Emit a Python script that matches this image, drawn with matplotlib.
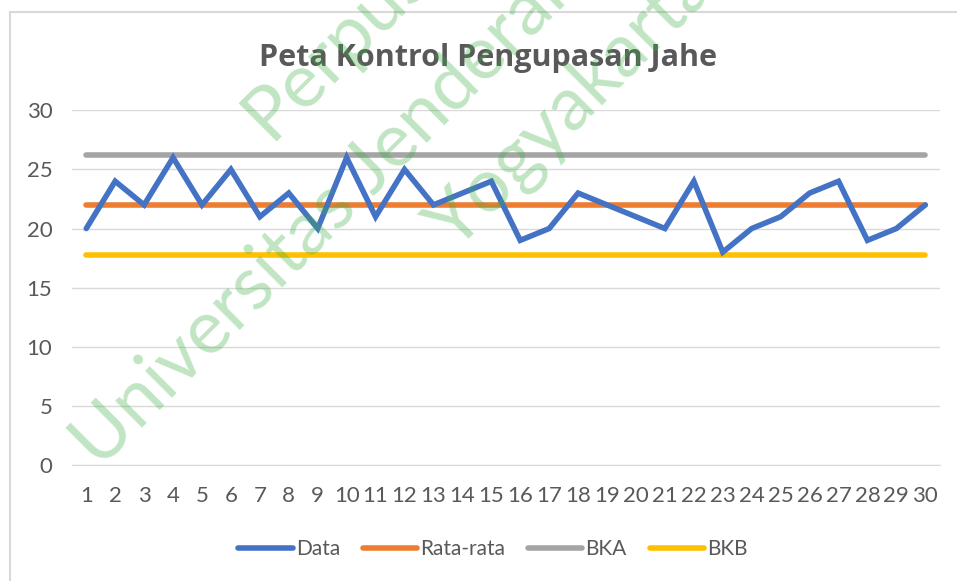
import matplotlib.pyplot as plt

plt.rcParams['font.family'] = ['Lato', 'DejaVu Sans']

obs = list(range(1, 31))
data = [20, 24, 22, 26, 22, 25, 21, 23, 20, 26,
        21, 25, 22, 23, 24, 19, 20, 23, 22, 21,
        20, 24, 18, 20, 21, 23, 24, 19, 20, 22]
rata = [22.0] * 30
bka = [26.2] * 30
bkb = [17.8] * 30

fig = plt.figure(figsize=(9.57, 5.81), dpi=100)
ax = fig.add_axes([0.075, 0.2, 0.907, 0.61])

grey = '#595959'
ax.plot(obs, data, color='#4472C4', lw=4, label='Data', solid_capstyle='round', solid_joinstyle='miter', zorder=5)
ax.plot(obs, rata, color='#ED7D31', lw=4, label='Rata-rata', solid_capstyle='round', zorder=4)
ax.plot(obs, bka, color='#A5A5A5', lw=4, label='BKA', solid_capstyle='round', zorder=4)
ax.plot(obs, bkb, color='#FFC000', lw=4, label='BKB', solid_capstyle='round', zorder=4)

ax.set_xlim(0.5, 30.5)
ax.set_ylim(0, 30)
ax.set_yticks(range(0, 31, 5))
ax.set_xticks(obs)
ax.yaxis.grid(True, color='#D9D9D9', lw=1)
ax.set_axisbelow(True)
for s in ['top', 'right', 'left']:
    ax.spines[s].set_visible(False)
ax.spines['bottom'].set_color('#D9D9D9')
ax.tick_params(axis='both', length=0, labelsize=16, colors=grey)
ax.tick_params(axis='x', pad=15)
ax.tick_params(axis='y', pad=14)

fig.text(0.51, 0.9, 'Peta Kontrol Pengupasan Jahe', ha='center', va='center',
         fontsize=22, fontweight='bold', color=grey, family='Open Sans')

fig.legend(loc='center', bbox_to_anchor=(0.515, 0.055), ncol=4, frameon=False,
           fontsize=15, labelcolor=grey, handlelength=2.6, handletextpad=0.15, columnspacing=1.1)

# watermark
wm = dict(color='#3cb043', alpha=0.32, fontsize=54, rotation=45, ha='left', va='baseline',
          rotation_mode='anchor')
fig.text(100 / 957, 1 - 470 / 581, 'Universitas Jenderal', **wm)
fig.text(455 / 957, 1 - 252 / 581, 'Yogyakarta', **wm)
fig.text(270 / 957, 1 - 142 / 581, 'Perpustakaan', **wm)

fig.patches.append(plt.Rectangle((10 / 957, -0.05), 1.2, 1.05 - 12 / 581, transform=fig.transFigure,
                                 fill=False, edgecolor='#D9D9D9', lw=1.5))

fig.savefig('out.png', dpi=100)
